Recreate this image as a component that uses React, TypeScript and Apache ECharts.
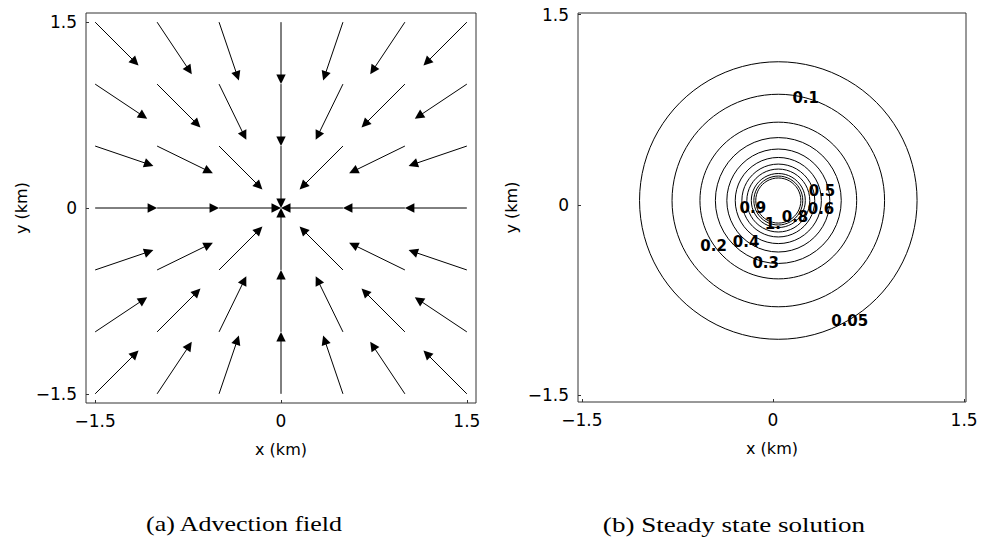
import React, { useEffect, useRef } from 'react';
import * as echarts from 'echarts';

// ---- tick labels ----
const tickValues = [-1.5, 0, 1.5];

// ---- (a) advection field: arrow base points and arrow components ----
const gridXs = [-1.5, -1, -0.5, 0, 0.5, 1, 1.5];
const gridYs = [1.5, 1, 0.5, 0, -0.5, -1, -1.5];
const arrowU = [
  [0.35, 0.28, 0.16, 0, -0.16, -0.28, -0.35],
  [0.42, 0.35, 0.22, 0, -0.22, -0.35, -0.42],
  [0.47, 0.45, 0.35, 0, -0.35, -0.45, -0.47],
  [0.5, 0.5, 0.5, 0, -0.5, -0.5, -0.5],
  [0.47, 0.45, 0.35, 0, -0.35, -0.45, -0.47],
  [0.42, 0.35, 0.22, 0, -0.22, -0.35, -0.42],
  [0.35, 0.28, 0.16, 0, -0.16, -0.28, -0.35],
];
const arrowV = [
  [-0.35, -0.42, -0.47, -0.5, -0.47, -0.42, -0.35],
  [-0.28, -0.35, -0.45, -0.5, -0.45, -0.35, -0.28],
  [-0.16, -0.22, -0.35, -0.5, -0.35, -0.22, -0.16],
  [0, 0, 0, 0, 0, 0, 0],
  [0.16, 0.22, 0.35, 0.5, 0.35, 0.22, 0.16],
  [0.28, 0.35, 0.45, 0.5, 0.45, 0.35, 0.28],
  [0.35, 0.42, 0.47, 0.5, 0.47, 0.42, 0.35],
];

// ---- (b) steady state solution: contour levels (circles) ----
const contourCenterX = 0.042;
const contourCenterY = 0.034;
const contourLevels = [0.05, 0.1, 0.2, 0.3, 0.4, 0.5, 0.6, 0.7, 0.8, 0.9, 1.0];
const contourRadii = [1.089, 0.834, 0.615, 0.494, 0.404, 0.338, 0.286, 0.247, 0.212, 0.192, 0.177];

// contour labels
const labelTexts = ['0.1', '0.05', '0.2', '0.3', '0.4', '0.5', '0.6', '0.9', '0.8', '1.'];
const labelXs = [0.257, 0.602, -0.466, -0.057, -0.211, 0.385, 0.377, -0.158, 0.173, -0.001];
const labelYs = [0.839, -0.913, -0.321, -0.455, -0.294, 0.109, -0.033, -0.021, -0.096, -0.152];

const captionA = '(a) Advection field';
const captionB = '(b) Steady state solution';

const fmt = (v: number) => (v === 0 ? '0' : (v < 0 ? '\u2212' : '') + Math.abs(v));

const sansFont = 'DejaVu Sans';

function makeAxis(gridIndex: number, min: number, max: number, name: string, nameGap: number) {
  return {
    gridIndex,
    type: 'value',
    min,
    max,
    name,
    nameLocation: 'middle',
    nameGap,
    nameTextStyle: { fontFamily: sansFont, fontSize: 16, color: '#000' },
    axisLine: { show: false, onZero: false },
    splitLine: { show: false },
    axisTick: {
      show: true,
      inside: true,
      length: 3,
      customValues: tickValues,
      lineStyle: { color: '#333', width: 1 },
    },
    axisLabel: {
      customValues: tickValues,
      formatter: fmt,
      fontFamily: sansFont,
      fontSize: 17,
      color: '#000',
      margin: 9,
    },
  };
}

export default function App() {
  const ref = useRef<HTMLDivElement>(null);

  useEffect(() => {
    const chart = echarts.init(ref.current as HTMLDivElement, null, { renderer: 'svg' });

    const arrowData: number[][] = [];
    gridYs.forEach((y, r) => {
      gridXs.forEach((x, c) => {
        arrowData.push([x, y, arrowU[r][c], arrowV[r][c]]);
      });
    });

    const contourData = contourLevels.map((lv, i) => [contourCenterX, contourCenterY, contourRadii[i], lv]);
    const labelData = labelTexts.map((_, i) => [labelXs[i], labelYs[i], i]);

    const option: any = {
      animation: false,
      backgroundColor: '#fff',
      grid: [
        { left: 86, top: 13, width: 390, height: 390, show: true, borderColor: '#333', borderWidth: 1, backgroundColor: 'transparent' },
        { left: 578, top: 13, width: 388, height: 389, show: true, borderColor: '#333', borderWidth: 1, backgroundColor: 'transparent' },
      ],
      xAxis: [
        makeAxis(0, -1.574, 1.574, 'x (km)', 38),
        makeAxis(1, -1.53, 1.515, 'x (km)', 38),
      ],
      yAxis: [
        makeAxis(0, -1.574, 1.574, 'y (km)', 57),
        makeAxis(1, -1.555, 1.513, 'y (km)', 59),
      ],
      series: [
        {
          type: 'custom',
          xAxisIndex: 0,
          yAxisIndex: 0,
          data: arrowData,
          renderItem: (params: any, api: any) => {
            const x = api.value(0);
            const y = api.value(1);
            const u = api.value(2);
            const v = api.value(3);
            if (u === 0 && v === 0) return null;
            const p0 = api.coord([x, y]);
            const p1 = api.coord([x + u, y + v]);
            const dx = p1[0] - p0[0];
            const dy = p1[1] - p0[1];
            const len = Math.hypot(dx, dy);
            const ux = dx / len;
            const uy = dy / len;
            const hl = 9.5;
            const hw = 4.7;
            const bx = p1[0] - ux * hl;
            const by = p1[1] - uy * hl;
            return {
              type: 'group',
              children: [
                {
                  type: 'line',
                  shape: { x1: p0[0], y1: p0[1], x2: bx + ux, y2: by + uy },
                  style: { stroke: '#000', lineWidth: 1 },
                },
                {
                  type: 'polygon',
                  shape: {
                    points: [
                      [p1[0], p1[1]],
                      [bx - uy * hw, by + ux * hw],
                      [bx + uy * hw, by - ux * hw],
                    ],
                  },
                  style: { fill: '#000', stroke: 'none' },
                },
              ],
            };
          },
        },
        {
          type: 'custom',
          xAxisIndex: 1,
          yAxisIndex: 1,
          data: contourData,
          renderItem: (params: any, api: any) => {
            const c = api.coord([api.value(0), api.value(1)]);
            const rr = api.size([api.value(2), api.value(2)]);
            return {
              type: 'circle',
              shape: { cx: c[0], cy: c[1], r: rr[0] },
              style: { fill: 'none', stroke: '#000', lineWidth: 1 },
            };
          },
        },
        {
          type: 'custom',
          xAxisIndex: 1,
          yAxisIndex: 1,
          data: labelData,
          z: 5,
          renderItem: (params: any, api: any) => {
            const p = api.coord([api.value(0), api.value(1)]);
            const idx = api.value(2);
            return {
              type: 'text',
              x: p[0],
              y: p[1],
              style: {
                text: labelTexts[idx],
                fontFamily: sansFont,
                fontSize: 15,
                fontWeight: 'bold',
                fill: '#000',
                align: 'center',
                verticalAlign: 'middle',
              },
            };
          },
        },
      ],
      graphic: [
        {
          type: 'text',
          x: 244,
          y: 524,
          scaleX: 1.18,
          style: {
            text: captionA,
            fontFamily: 'Liberation Serif',
            fontSize: 22,
            fill: '#000',
            align: 'center',
            verticalAlign: 'middle',
          },
        },
        {
          type: 'text',
          x: 734,
          y: 524,
          scaleX: 1.23,
          style: {
            text: captionB,
            fontFamily: 'Liberation Serif',
            fontSize: 22,
            fill: '#000',
            align: 'center',
            verticalAlign: 'middle',
          },
        },
      ],
    };

    chart.setOption(option);
    return () => chart.dispose();
  }, []);

  return (
    <div
      ref={ref}
      style={{ position: 'absolute', left: 0, top: 0, width: 982, height: 546, background: '#fff' }}
    />
  );
}
